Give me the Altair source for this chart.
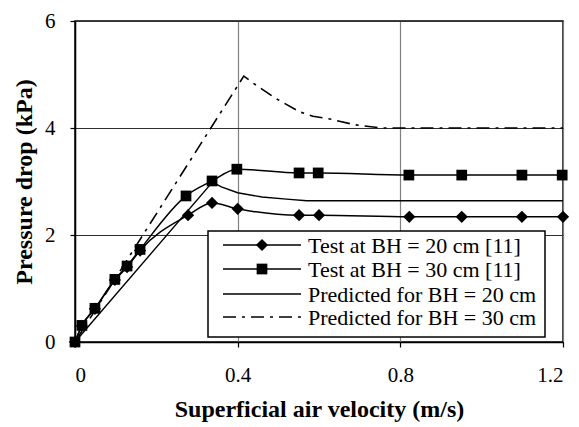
import altair as alt
import pandas as pd

# ---- data ----
test20_v = [0, 0.017, 0.049, 0.098, 0.128, 0.160, 0.278, 0.337, 0.400, 0.551, 0.600, 0.822, 0.951, 1.099, 1.200]
test20_p = [0, 0.30, 0.62, 1.16, 1.40, 1.71, 2.37, 2.60, 2.49, 2.37, 2.37, 2.34, 2.34, 2.34, 2.34]

test30_v = [0, 0.017, 0.049, 0.098, 0.128, 0.160, 0.273, 0.337, 0.398, 0.551, 0.598, 0.821, 0.951, 1.099, 1.198]
test30_p = [0, 0.31, 0.63, 1.17, 1.42, 1.73, 2.73, 3.01, 3.23, 3.16, 3.16, 3.12, 3.12, 3.12, 3.12]

pred20_v = [0, 0.338, 0.36, 0.40, 0.46, 0.52, 0.57, 1.2]
pred20_p = [0, 2.99, 2.90, 2.79, 2.71, 2.67, 2.64, 2.64]

pred30_v = [0, 0.415, 0.438, 0.492, 0.553, 0.585, 0.62, 0.688, 0.755, 1.2]
pred30_p = [0, 4.97, 4.84, 4.56, 4.30, 4.22, 4.18, 4.06, 4.00, 4.00]

x_ticks = [0, 0.4, 0.8, 1.2]
y_ticks = [0, 2, 4, 6]

legend_labels = [
    "Test at BH = 20 cm [11]",
    "Test at BH = 30 cm [11]",
    "Predicted for BH = 20 cm",
    "Predicted for BH = 30 cm",
]

FONT = "Liberation Serif, Times New Roman, serif"


def frame(v, p):
    return pd.DataFrame({"v": v, "p": p})


xenc = alt.X(
    "v:Q",
    scale=alt.Scale(domain=[0, 1.2], nice=False, zero=False),
    axis=alt.Axis(
        values=x_ticks, format="~g", title="Superficial air velocity (m/s)",
        grid=True, gridColor="#808080", gridWidth=1.2,
        labelPadding=17, titlePadding=12,
    ),
)
yenc = alt.Y(
    "p:Q",
    scale=alt.Scale(domain=[0, 6], nice=False),
    axis=alt.Axis(
        values=y_ticks, title="Pressure drop (kPa)",
        grid=True, gridColor="#303030", gridWidth=1.2,
        labelPadding=15, titlePadding=8,
    ),
)

d20 = frame(test20_v, test20_p)
d30 = frame(test30_v, test30_p)
p20 = frame(pred20_v, pred20_p)
p30 = frame(pred30_v, pred30_p)

line20 = alt.Chart(d20).mark_line(color="black", strokeWidth=1.5, interpolate="monotone").encode(x=xenc, y=yenc)
pts20 = alt.Chart(d20).mark_point(shape="diamond", filled=True, color="black", size=150, opacity=1).encode(x=xenc, y=yenc)
line30 = alt.Chart(d30).mark_line(color="black", strokeWidth=1.5, interpolate="monotone").encode(x=xenc, y=yenc)
pts30 = alt.Chart(d30).mark_point(shape="square", filled=True, color="black", size=115, opacity=1).encode(x=xenc, y=yenc)
lp20 = alt.Chart(p20).mark_line(color="black", strokeWidth=1.4).encode(x=xenc, y=yenc)
lp30 = alt.Chart(p30).mark_line(color="black", strokeWidth=1.6, strokeDash=[13, 6, 3, 6]).encode(x=xenc, y=yenc)

# ---- manual legend ----
one = pd.DataFrame({"k": [0]})
box = alt.Chart(one).mark_rect(fill="white", stroke="black", strokeWidth=1.5).encode(
    x=alt.value(133), x2=alt.value(470), y=alt.value(210), y2=alt.value(316)
)
rows_y = [224, 248, 273, 296]
dashes = [None, None, None, [13, 6, 3, 6]]
shapes = ["diamond", "square", None, None]
sizes = [150, 115, 0, 0]
leg_layers = [box]
for lab, yy, dash, shp, sz in zip(legend_labels, rows_y, dashes, shapes, sizes):
    kw = dict(color="black", strokeWidth=1.5)
    if dash:
        kw["strokeDash"] = dash
    leg_layers.append(
        alt.Chart(one).mark_rule(**kw).encode(x=alt.value(148), x2=alt.value(226), y=alt.value(yy))
    )
    if shp:
        leg_layers.append(
            alt.Chart(one).mark_point(shape=shp, filled=True, color="black", size=sz, opacity=1).encode(
                x=alt.value(187), y=alt.value(yy)
            )
        )
    leg_layers.append(
        alt.Chart(one).mark_text(align="left", baseline="middle", font=FONT, fontSize=22, color="black").encode(
            x=alt.value(233), y=alt.value(yy + 1), text=alt.value(lab)
        )
    )

chart = alt.layer(lp30, lp20, line20, line30, pts20, pts30, *leg_layers).properties(
    width=488, height=321,
    autosize=alt.AutoSizeParams(type="none"),
    padding={"left": 67, "top": 13, "right": 8, "bottom": 85},
).configure_view(
    stroke="black", strokeWidth=1.5
).configure_axis(
    labelFont=FONT, labelFontSize=21, labelColor="black",
    titleFont=FONT, titleFontSize=24, titleFontWeight="bold", titleColor="black",
    tickColor="black", tickSize=5, tickWidth=1.2,
    domainColor="black", domainWidth=1.5,
)

chart.save("out.html", embed_options={"renderer": "svg", "actions": False})
